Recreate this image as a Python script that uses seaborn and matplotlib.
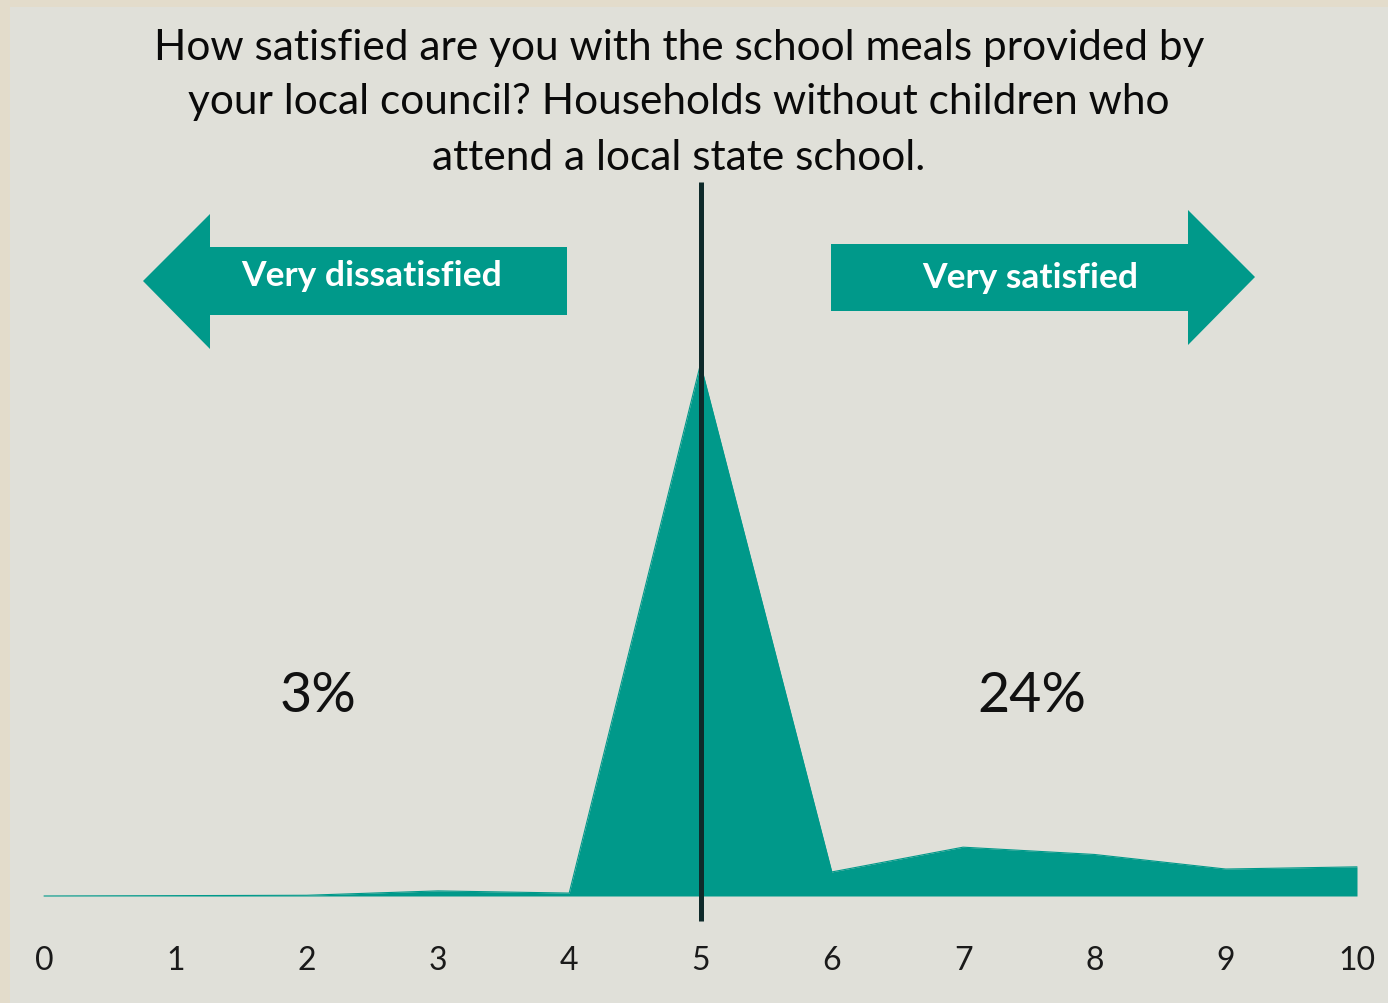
import numpy as np
import pandas as pd
import seaborn as sns
import matplotlib.pyplot as plt
from matplotlib.patches import Polygon

# data (share of households, %)
scores = [0, 1, 2, 3, 4, 5, 6, 7, 8, 9, 10]
shares = [0.0, 0.05, 0.1, 0.7, 0.4, 73.0, 3.3, 6.7, 5.7, 3.7, 4.0]
tick_labels = [str(s) for s in scores]
title_lines = ["How satisfied are you with the school meals provided by",
               "your local council? Households without children who",
               "attend a local state school."]
low_label, high_label = "Very dissatisfied", "Very satisfied"
low_pct, high_pct = "3%", "24%"
neutral_score = 5

TEAL = "#00998a"
PANEL = "#e0e0d9"
BORDER = "#e3dccb"
W, H = 1388, 1004

sns.set_theme(style="white")
plt.rcParams['font.family'] = ['Lato', 'DejaVu Sans']

df = pd.DataFrame({"score": scores, "share": shares})

fig = plt.figure(figsize=(W / 100, H / 100), dpi=100, facecolor=BORDER)
ax = fig.add_axes([10 / W, 0, (W - 10) / W, (H - 8) / H], facecolor=PANEL)


def px(x, y):
    # pixel position -> figure fraction
    return x / W, 1 - y / H


sns.lineplot(data=df, x="score", y="share", color=TEAL, linewidth=0.8, ax=ax)
ax.fill_between(df["score"], 0, df["share"], color=TEAL, linewidth=0)

k = 73.0 / 532  # % per pixel
ax.set_xlim((10 - 44) / 131.3, (W - 44) / 131.3)
ax.set_ylim(-(H - 897) * k, (897 - 8) * k)

ax.vlines(neutral_score, -25 * k, 714 * k, color="#0e2a2a", linewidth=3.6)

for s in ax.spines.values():
    s.set_visible(False)
ax.spines['bottom'].set_position(('data', 0))
ax.set_xticks(scores)
ax.set_xticklabels(tick_labels)
ax.tick_params(axis='x', length=0, pad=35, labelsize=23, labelcolor="#1a1a1a")
ax.set_yticks([])
ax.set_xlabel("")
ax.set_ylabel("")

# title
for line, yy in zip(title_lines, [48, 102, 158]):
    fig.text(*px(679, yy), line, ha="center", va="center", fontsize=30.5, color="#0a0a0a")

# arrows
left = [(143, 282), (210, 215), (210, 248), (567, 248), (567, 316), (210, 316), (210, 350)]
right = [(831, 245), (1188, 245), (1188, 211), (1255, 278), (1188, 346), (1188, 312), (831, 312)]
for pts in (left, right):
    fig.patches.append(Polygon([px(*p) for p in pts], closed=True, facecolor=TEAL,
                               edgecolor="none", transform=fig.transFigure))
fig.text(*px(372, 276), low_label, ha="center", va="center", fontsize=25.5,
         fontweight="bold", color="white")
fig.text(*px(1030, 278), high_label, ha="center", va="center", fontsize=25.5,
         fontweight="bold", color="white")

fig.text(*px(318, 697), low_pct, ha="center", va="center", fontsize=40, color="#111111")
fig.text(*px(1032, 697), high_pct, ha="center", va="center", fontsize=40, color="#111111")

fig.savefig("out.png", dpi=100, facecolor=BORDER)
plt.close(fig)
